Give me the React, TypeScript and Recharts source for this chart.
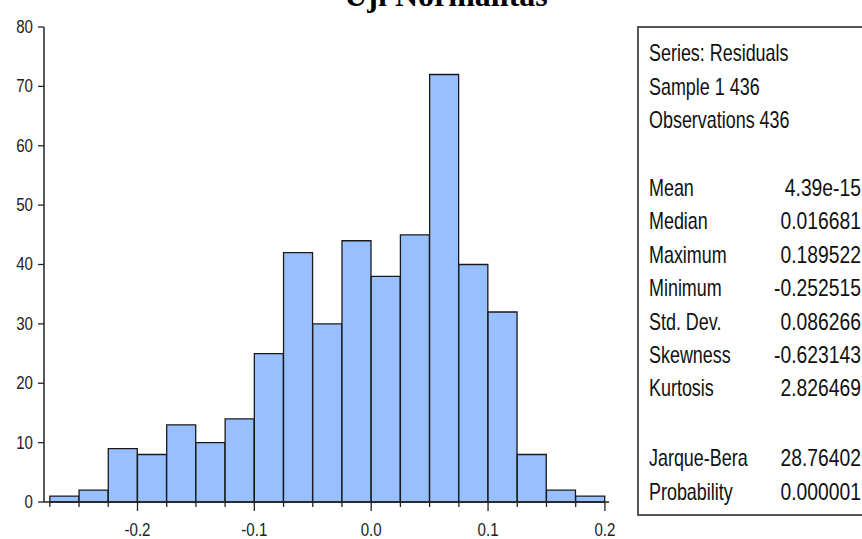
import React from 'react'
import { ComposedChart, Bar, XAxis, YAxis } from 'recharts'

// histogram bins (centres), width 0.025
const binCenters = [
  -0.2625, -0.2375, -0.2125, -0.1875, -0.1625, -0.1375, -0.1125, -0.0875, -0.0625, -0.0375,
  -0.0125, 0.0125, 0.0375, 0.0625, 0.0875, 0.1125, 0.1375, 0.1625, 0.1875,
]
const counts = [1, 2, 9, 8, 13, 10, 14, 25, 42, 30, 44, 38, 45, 72, 40, 32, 8, 2, 1]

const binEdges = [
  -0.275, -0.25, -0.225, -0.2, -0.175, -0.15, -0.125, -0.1, -0.075, -0.05, -0.025, 0,
  0.025, 0.05, 0.075, 0.1, 0.125, 0.15, 0.175, 0.2,
]
const yTicks = [0, 10, 20, 30, 40, 50, 60, 70, 80]

const headerLines = ['Series: Residuals', 'Sample 1 436', 'Observations 436']
const statLabels = ['Mean', 'Median', 'Maximum', 'Minimum', 'Std. Dev.', 'Skewness', 'Kurtosis']
const statValues = ['4.39e-15', '0.016681', '0.189522', '-0.252515', '0.086266', '-0.623143', '2.826469']
const testLabels = ['Jarque-Bera', 'Probability']
const testValues = ['28.76402', '0.000001']

const data = binCenters.map((x, i) => ({ x, count: counts[i] }))

const sans = '"Liberation Sans", Arial, sans-serif'
const axisColor = '#222'
const SQ = 0.84 // horizontal squeeze for the narrow EViews font

function XTick(props: any) {
  const { x, y, payload } = props
  const v = payload.value
  const major = Math.abs(v * 10 - Math.round(v * 10)) < 1e-9
  return (
    <g>
      <line x1={x} x2={x} y1={y} y2={y + (major ? 9 : 5)} stroke={axisColor} strokeWidth={1.3} />
      {major && (
        <text transform={`translate(${x},${y + 28}) scale(${SQ},1)`} textAnchor="middle"
          dominantBaseline="central" fontFamily={sans} fontSize={18} fill="#222">
          {v.toFixed(1)}
        </text>
      )}
    </g>
  )
}

function YTick(props: any) {
  const { x, y, payload } = props
  return (
    <text transform={`translate(${x},${y}) scale(${SQ},1)`} textAnchor="end"
      dominantBaseline="central" fontFamily={sans} fontSize={18} fill="#222">
      {payload.value}
    </text>
  )
}

export default function App() {
  const headY = [53, 87, 120]
  const statY = [188, 221, 255, 288, 322, 355, 388]
  const testY = [458, 492]
  const bs = 0.78 // labels
  const vs = 0.84 // numbers
  const lx = 649
  const rx = 861
  return (
    <div style={{ position: 'absolute', left: 0, top: 0, width: 862, height: 539, background: '#fff', overflow: 'hidden' }}>
      <ComposedChart
        width={630}
        height={539}
        data={data}
        margin={{ top: 27, right: 21, left: 0, bottom: 0 }}
        barCategoryGap={0}
        barGap={0}
      >
        <XAxis
          dataKey="x"
          type="number"
          domain={[-0.28, 0.2035]}
          ticks={binEdges}
          interval={0}
          tick={<XTick />}
          tickLine={false}
          tickSize={0}
          tickMargin={0}
          height={37}
          axisLine={{ stroke: axisColor, strokeWidth: 1.5 }}
          allowDataOverflow
        />
        <XAxis xAxisId="top" orientation="top" type="number" domain={[-0.28, 0.2035]}
          tick={false} tickLine={false} height={0} axisLine={{ stroke: axisColor, strokeWidth: 1.5 }} />
        <YAxis
          domain={[0, 80]}
          ticks={yTicks}
          interval={0}
          width={44}
          tickSize={6}
          tickMargin={5}
          tick={<YTick />}
          tickLine={{ stroke: axisColor, strokeWidth: 1.3 }}
          axisLine={{ stroke: axisColor, strokeWidth: 1.5 }}
        />
        <YAxis yAxisId="right" orientation="right" domain={[0, 80]} tick={false} tickLine={false}
          width={0} axisLine={{ stroke: axisColor, strokeWidth: 1.5 }} />
        <Bar dataKey="count" fill="#98bfff" stroke="#1a1a1a" strokeWidth={1.3} isAnimationActive={false} />
      </ComposedChart>

      <svg width={862} height={539} style={{ position: 'absolute', left: 0, top: 0, pointerEvents: 'none' }}>
        <text x={446} y={6} textAnchor="middle" fontFamily='"Liberation Serif", "Times New Roman", serif'
          fontWeight="bold" fontSize={32} fill="#000">
          Uji Normalitas
        </text>
        <rect x={638} y={27} width={300} height={488} fill="none" stroke="#444" strokeWidth={1.8} />
        <g transform={`translate(${lx},0) scale(${bs},1)`} fontFamily={sans} fontSize={23} fill="#111">
          {headerLines.map((t, i) => (
            <text key={t} x={0} y={headY[i]} dominantBaseline="central">{t}</text>
          ))}
          {statLabels.map((t, i) => (
            <text key={t} x={0} y={statY[i]} dominantBaseline="central">{t}</text>
          ))}
          {testLabels.map((t, i) => (
            <text key={t} x={0} y={testY[i]} dominantBaseline="central">{t}</text>
          ))}
        </g>
        <g transform={`translate(${rx},0) scale(${vs},1)`} fontFamily={sans} fontSize={23} fill="#111">
          {statValues.map((t, i) => (
            <text key={t} x={0} y={statY[i]} textAnchor="end" dominantBaseline="central">{t}</text>
          ))}
          {testValues.map((t, i) => (
            <text key={t} x={0} y={testY[i]} textAnchor="end" dominantBaseline="central">{t}</text>
          ))}
        </g>
      </svg>
    </div>
  )
}
